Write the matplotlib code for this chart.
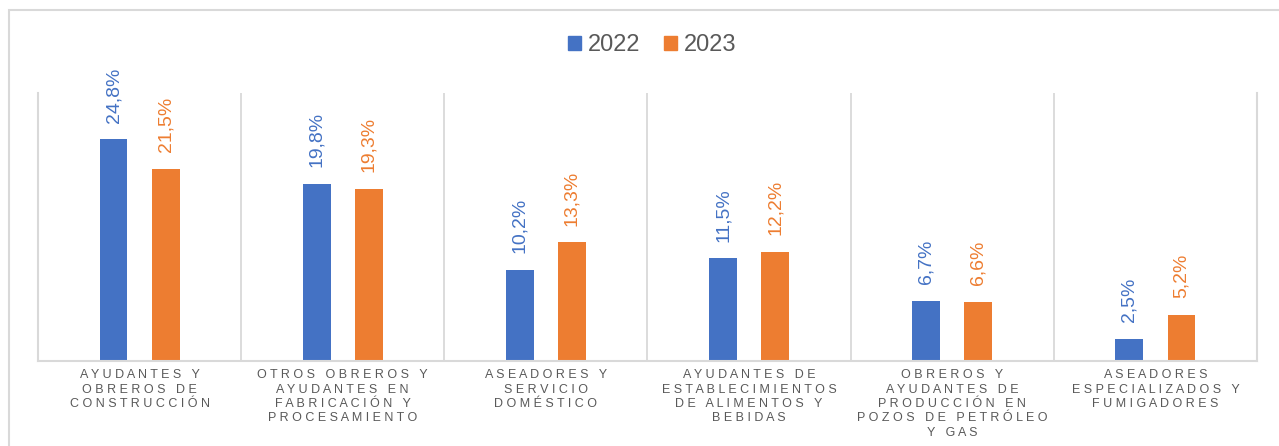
import matplotlib.pyplot as plt
from matplotlib.patches import Rectangle, Patch
import numpy as np

plt.rcParams['font.family'] = ['Liberation Sans', 'DejaVu Sans']

categories = [
    "AYUDANTES Y\nOBREROS DE\nCONSTRUCCIÓN",
    "OTROS OBREROS Y\nAYUDANTES EN\nFABRICACIÓN Y\nPROCESAMIENTO",
    "ASEADORES Y\nSERVICIO\nDOMÉSTICO",
    "AYUDANTES DE\nESTABLECIMIENTOS\nDE ALIMENTOS Y\nBEBIDAS",
    "OBREROS Y\nAYUDANTES DE\nPRODUCCIÓN EN\nPOZOS DE PETRÓLEO\nY GAS",
    "ASEADORES\nESPECIALIZADOS Y\nFUMIGADORES",
]
val_2022 = [24.8, 19.8, 10.2, 11.5, 6.7, 2.5]
val_2023 = [21.5, 19.3, 13.3, 12.2, 6.6, 5.2]
series_names = ["2022", "2023"]

blue = '#4472C4'
orange = '#ED7D31'
grid_gray = '#D9D9D9'
text_gray = '#595959'


def spaced(label):
    # fake letter spacing: a space between every character
    return '\n'.join(' '.join(list(line)) for line in label.split('\n'))


fig = plt.figure(figsize=(12.79, 4.46), dpi=100)

# outer chart frame (only top and left edges are visible)
fig.patches.append(Rectangle((9 / 1279, -0.1), 1.2, 1 - 10 / 446 + 0.1,
                             transform=fig.transFigure, fill=False,
                             edgecolor=grid_gray, lw=1.5))

ax = fig.add_axes([38 / 1279, 85 / 446, 1219 / 1279, 268 / 446])

x = np.arange(len(categories))
w = 0.137
off = 0.128
b1 = ax.bar(x - off, val_2022, w, color=blue)
b2 = ax.bar(x + off, val_2023, w, color=orange)

for bars, vals, col in [(b1, val_2022, blue), (b2, val_2023, orange)]:
    for bar, v in zip(bars, vals):
        ax.annotate(f"{v:.1f}%".replace('.', ','),
                    (bar.get_x() + bar.get_width() / 2, bar.get_height()),
                    xytext=(0, 12), textcoords='offset points',
                    rotation=90, ha='center', va='bottom',
                    fontsize=14, color=col)

# vertical separators between categories
for b in np.arange(0.5, len(categories) - 0.5, 1):
    ax.axvline(b, color=grid_gray, lw=1.3, zorder=0)

ax.set_xlim(-0.5, len(categories) - 0.5)
ax.set_ylim(0, 30)
ax.set_yticks([])
ax.set_xticks(x)
ax.set_xticklabels([spaced(c) for c in categories], fontsize=9,
                   color=text_gray, linespacing=1.26)
ax.tick_params(axis='x', length=0, pad=6)
ax.spines['top'].set_visible(False)
for s in ['left', 'right', 'bottom']:
    ax.spines[s].set_color(grid_gray)
    ax.spines[s].set_linewidth(1.5)

handles = [Patch(color=blue), Patch(color=orange)]
fig.legend(handles, series_names, loc='center', bbox_to_anchor=(0.51, 0.899),
           ncol=2, frameon=False, fontsize=17, labelcolor=text_gray,
           handlelength=0.55, handleheight=0.55, handletextpad=0.3,
           columnspacing=1.0)

fig.savefig('out.png', dpi=100)
